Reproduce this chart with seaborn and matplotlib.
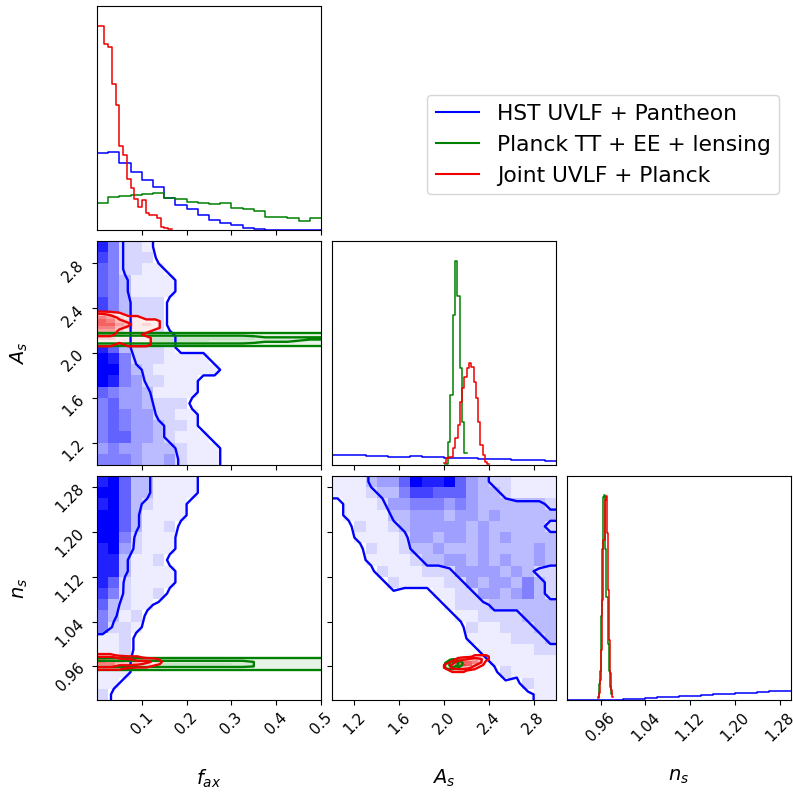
import numpy as np
import pandas as pd
import matplotlib
matplotlib.use("Agg")
import matplotlib.pyplot as plt
import seaborn as sns
from matplotlib.colors import LinearSegmentedColormap
from matplotlib.lines import Line2D

# ---- parameters, ranges, ticks ----
param_labels = [r"$f_{ax}$", r"$A_s$", r"$n_s$"]
fax_range = (0.0, 0.5)
As_range = (1.0, 3.0)
ns_range = (0.9, 1.3)
fax_ticks = [0.1, 0.2, 0.3, 0.4, 0.5]
As_ticks = [1.2, 1.6, 2.0, 2.4, 2.8]
ns_ticks = [0.96, 1.04, 1.12, 1.20, 1.28]
fax_ticklabels = ["0.1", "0.2", "0.3", "0.4", "0.5"]
As_ticklabels = ["1.2", "1.6", "2.0", "2.4", "2.8"]
ns_ticklabels = ["0.96", "1.04", "1.12", "1.20", "1.28"]

legend_labels = ["HST UVLF + Pantheon", "Planck TT + EE + lensing", "Joint UVLF + Planck"]
color_uvlf = "#0000ff"
color_planck = "#008000"
color_joint = "#ee0000"

# ---- 1D marginal histograms (bin heights) ----
fax_hist_uvlf = [230, 235, 202, 175, 150, 128, 95, 75, 62, 45, 30, 22, 15, 5, 2, 1, 1, 0, 0, 0]
fax_hist_planck = [80, 100, 102, 104, 107, 112, 95, 93, 85, 81, 78, 80, 65, 62, 57, 40, 38, 35, 28, 35]
fax_hist_joint = [612, 612, 560, 550, 440, 375, 252, 225, 152, 125, 92, 70, 90, 50, 45, 45, 35, 8, 5, 2]
fax_bins_joint = (0.0, 0.167)

As_hist_uvlf = [30, 29, 29, 28, 27, 25, 24, 26, 25, 23, 22, 21, 20, 19, 18, 17, 16, 15, 14, 13]
As_hist_planck = [2, 70, 210, 450, 610, 505, 290, 130, 35]
As_bins_planck = (2.013, 2.204)
As_hist_joint = [5, 20, 25, 25, 50, 80, 120, 190, 230, 265, 290, 305, 295, 250, 200, 130, 60, 30, 10, 3]
As_bins_joint = (2.0, 2.406)

ns_hist_uvlf = [0, 0, 0, 0, 1, 3, 4, 6, 8, 10, 11, 13, 15, 17, 18, 20, 22, 24, 26, 28]
ns_hist_planck = [10, 48, 88, 253, 453, 608, 613, 453, 308, 168, 88, 40, 18]
ns_bins_planck = (0.9552, 0.980)
ns_hist_joint = [5, 20, 60, 150, 300, 480, 600, 610, 500, 330, 180, 80, 30, 10]
ns_bins_joint = (0.955, 0.983)

# ---- 2D binned densities (rows from top to bottom, one digit per cell) ----
fax_As_uvlf = [
    "85221000000000000000",
    "75222000000000000000",
    "65221100000000000000",
    "65311110000000000000",
    "65311110000000000000",
    "75322200000000000000",
    "75322200000000000000",
    "75322200000000000000",
    "85322210000000000000",
    "86322210000000000000",
    "98522211110000000000",
    "99532111111000000000",
    "98542211100000000000",
    "65443111100000000000",
    "56443222000000000000",
    "56544221100000000000",
    "56544322100000000000",
    "56644321110000000000",
    "45443332111000000000",
    "55543342111000000000",
]
fax_As_planck = [
    "0000000000",
    "0000000000",
    "1111111111",
    "3333333222",
    "4444444333",
    "4444433332",
    "3333333222",
    "1111111111",
    "0000000000",
    "0000000000",
]
fax_As_planck_box = ((0.0, 0.5), (2.02, 2.22))
fax_As_joint = [
    "00000000",
    "32100000",
    "54211000",
    "65321110",
    "66431210",
    "55321110",
    "44211100",
    "33211000",
    "22111100",
    "11111100",
    "11011100",
    "00000000",
]
fax_As_joint_box = ((0.0, 0.16), (2.03, 2.39))

fax_ns_uvlf = [
    "89633111100000000000",
    "99633111100000000000",
    "89632111000000000000",
    "99631111000000000000",
    "99631120000000000000",
    "99521110000000000000",
    "89421110000000000000",
    "88311200000000000000",
    "88311110000000000000",
    "86211110000000000000",
    "75211200000000000000",
    "63211000000000000000",
    "53120000000000000000",
    "52210000000000000000",
    "11200000000000000000",
    "11200000000000000000",
    "11100000000000000000",
    "11100000000000000000",
    "11000000000000000000",
    "20000000000000000000",
]
fax_ns_planck = [
    "0000000000",
    "0000000000",
    "2222222222",
    "3333333222",
    "4444443222",
    "3333333222",
    "1111111111",
    "0000000000",
]
fax_ns_planck_box = ((0.0, 0.5), (0.950, 0.982))
fax_ns_joint = [
    "00000000",
    "11000000",
    "33211000",
    "54332210",
    "65433320",
    "55333210",
    "33221100",
    "11100000",
    "00000000",
]
fax_ns_joint_box = ((0.0, 0.16), (0.950, 0.986))

As_ns_uvlf = [
    "11134469889643221111",
    "11123357766643321111",
    "01112445554543333332",
    "01111334443443433333",
    "00211234444434333332",
    "00111124434434343333",
    "00021123343334333343",
    "00011112334434343343",
    "00002111222444434322",
    "00000211112243443532",
    "00000000011224434532",
    "00000000001222333333",
    "00000000000112222333",
    "00000000000021122233",
    "00000000000011112223",
    "00000000000001111122",
    "00000000000000111111",
    "00000000000000021111",
    "00000000000000000211",
    "00000000000000000011",
]
As_ns_planck = [
    "0000000",
    "0012100",
    "0134320",
    "0134310",
    "0122100",
    "0000000",
]
As_ns_planck_box = ((1.98, 2.19), (0.952, 0.976))
As_ns_joint = [
    "0000000000",
    "0000001110",
    "0001234310",
    "0014665300",
    "0136763100",
    "0134431000",
    "0011100000",
    "0000000000",
]
As_ns_joint_box = ((1.95, 2.45), (0.945, 0.985))

contour_levels = [0.5, 2.5]


def step_hist(ax, heights, lo, hi, color):
    edges = np.linspace(lo, hi, len(heights) + 1)
    df = pd.DataFrame({"x": 0.5 * (edges[1:] + edges[:-1]), "w": heights})
    sns.histplot(data=df, x="x", weights="w", bins=edges.tolist(), element="step",
                 fill=False, color=color, linewidth=1.1, ax=ax)


def density(ax, rows, xr, yr, color, cover=True, vmax=9):
    grid = np.array([[int(c) for c in r] for r in rows], dtype=float)[::-1]
    ny, nx = grid.shape
    xe = np.linspace(xr[0], xr[1], nx + 1)
    ye = np.linspace(yr[0], yr[1], ny + 1)
    xc = 0.5 * (xe[1:] + xe[:-1])
    yc = 0.5 * (ye[1:] + ye[:-1])
    X, Y = np.meshgrid(xc, yc)
    # padded copy so contours run out past the grid edges
    dx, dy = xe[1] - xe[0], ye[1] - ye[0]
    xp = np.concatenate([[xc[0] - dx], xc, [xc[-1] + dx]])
    yp = np.concatenate([[yc[0] - dy], yc, [yc[-1] + dy]])
    gp = np.pad(grid, 1, mode="edge")
    if cover:
        ax.contourf(xp, yp, gp, levels=[contour_levels[0], 100], colors=["white"],
                    zorder=1, antialiased=False)
    cmap = LinearSegmentedColormap.from_list("dens", ["white", color], gamma=1.2)
    df = pd.DataFrame({"x": X.ravel(), "y": Y.ravel(), "w": grid.ravel()})
    sns.histplot(data=df, x="x", y="y", weights="w", bins=[xe.tolist(), ye.tolist()],
                 cmap=cmap, vmin=0, vmax=vmax, ax=ax)
    ax.contour(xp, yp, gp, levels=contour_levels, colors=[color], linewidths=1.7, zorder=2)


fig, axes = plt.subplots(3, 3, figsize=(7.93, 7.93), dpi=100)
fig.subplots_adjust(left=97 / 793, right=791 / 793, bottom=93 / 793, top=787 / 793,
                    wspace=0.049, hspace=0.049)

ranges = [fax_range, As_range, ns_range]
ticks = [fax_ticks, As_ticks, ns_ticks]
ticklabels = [fax_ticklabels, As_ticklabels, ns_ticklabels]

# diagonal
ax = axes[0, 0]
step_hist(ax, fax_hist_uvlf, *fax_range, color_uvlf)
step_hist(ax, fax_hist_planck, *fax_range, color_planck)
step_hist(ax, fax_hist_joint, *fax_bins_joint, color_joint)
ax.set_ylim(0, 1.1 * max(fax_hist_joint))

ax = axes[1, 1]
step_hist(ax, As_hist_uvlf, *As_range, color_uvlf)
step_hist(ax, As_hist_planck, *As_bins_planck, color_planck)
step_hist(ax, As_hist_joint, *As_bins_joint, color_joint)
ax.set_ylim(0, 1.1 * max(As_hist_planck))

ax = axes[2, 2]
step_hist(ax, ns_hist_uvlf, *ns_range, color_uvlf)
step_hist(ax, ns_hist_planck, *ns_bins_planck, color_planck)
step_hist(ax, ns_hist_joint, *ns_bins_joint, color_joint)
ax.set_ylim(0, 1.1 * max(ns_hist_joint))

# off-diagonal
ax = axes[1, 0]
density(ax, fax_As_uvlf, fax_range, As_range, color_uvlf, cover=False)
density(ax, fax_As_planck, *fax_As_planck_box, color_planck, vmax=14)
density(ax, fax_As_joint, *fax_As_joint_box, color_joint)

ax = axes[2, 0]
density(ax, fax_ns_uvlf, fax_range, ns_range, color_uvlf, cover=False)
density(ax, fax_ns_planck, *fax_ns_planck_box, color_planck, vmax=14)
density(ax, fax_ns_joint, *fax_ns_joint_box, color_joint)

ax = axes[2, 1]
density(ax, As_ns_uvlf, As_range, ns_range, color_uvlf, cover=False)
density(ax, As_ns_planck, *As_ns_planck_box, color_planck, vmax=14)
density(ax, As_ns_joint, *As_ns_joint_box, color_joint)

for i in range(3):
    for j in range(3):
        ax = axes[i, j]
        if j > i:
            ax.set_axis_off()
            continue
        ax.set_xlim(ranges[j])
        ax.set_xticks(ticks[j])
        ax.set_xlabel("")
        ax.set_ylabel("")
        ax.tick_params(labelsize=10.8)
        if i == 2:
            ax.set_xticklabels(ticklabels[j], rotation=45)
            ax.set_xlabel(param_labels[j], fontsize=14)
            ax.xaxis.set_label_coords(0.5, -0.3)
        else:
            ax.set_xticklabels([])
        if i == j:
            ax.set_yticks([])
        else:
            ax.set_ylim(ranges[i])
            ax.set_yticks(ticks[i])
            if j == 0:
                ax.set_yticklabels(ticklabels[i], rotation=45)
                ax.set_ylabel(param_labels[i], fontsize=14)
                ax.yaxis.set_label_coords(-0.3, 0.5)
            else:
                ax.set_yticklabels([])

handles = [Line2D([], [], color=c, lw=1.5) for c in (color_uvlf, color_planck, color_joint)]
fig.legend(handles, legend_labels, loc="upper left", bbox_to_anchor=(427 / 793, 1 - 95 / 793),
           borderaxespad=0, fontsize=15.7)

fig.savefig("out.png", dpi=100)
